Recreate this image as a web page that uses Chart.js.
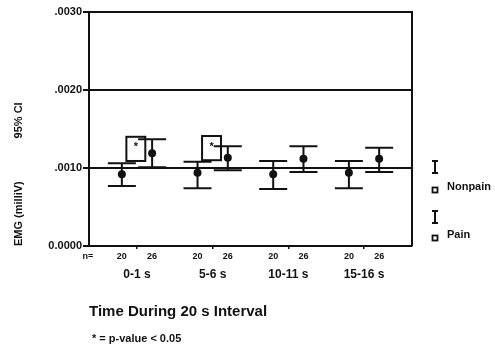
<!DOCTYPE html>
<html>
<head>
<meta charset="utf-8">
<script src="https://cdn.jsdelivr.net/npm/chart.js@4.4.1/dist/chart.umd.min.js"></script>
<style>
  html, body { margin: 0; padding: 0; background: #fff; }
  #wrap { width: 495px; height: 358px; }
</style>
</head>
<body>
<div id="wrap"><canvas id="c" width="495" height="358"></canvas></div>
<script>
// ---- data ----
const categories = ["0-1 s", "5-6 s", "10-11 s", "15-16 s"];
const nNonpain = [20, 20, 20, 20];
const nPain = [26, 26, 26, 26];
const nonpainMean = [0.00092, 0.00094, 0.00092, 0.00094];
const nonpainLow  = [0.00077, 0.00074, 0.00073, 0.00074];
const nonpainHigh = [0.00106, 0.00108, 0.00109, 0.00109];
const painMean = [0.00119, 0.00113, 0.00112, 0.00112];
const painLow  = [0.00101, 0.00097, 0.00095, 0.00095];
const painHigh = [0.00137, 0.00128, 0.00128, 0.00126];
const sigLow  = [0.00109, 0.00110, null, null];
const sigHigh = [0.00140, 0.00141, null, null];
const yTickValues = [0, 0.001, 0.002, 0.003];
const yTickLabels = ["0.0000", ".0010", ".0020", ".0030"];
const seriesNames = ["Nonpain", "Pain"];
const footnote = "* = p-value < 0.05";
const xTitle = "Time During 20 s Interval";
const yTitle = "EMG (milliV)              95% CI";

const FONT = "'Liberation Sans', Arial, Helvetica, sans-serif";
const INK = "#111";
const OFF = 0.2; // series offset inside a group (x units)

const nonpainPts = nonpainMean.map((v, i) => ({ x: i + 1 - OFF, y: v }));
const painPts = painMean.map((v, i) => ({ x: i + 1 + OFF, y: v }));

const extras = {
  id: 'extras',
  beforeDatasetsDraw(chart) {
    const ctx = chart.ctx;
    const xs = chart.scales.x, ys = chart.scales.y;
    const ca = chart.chartArea;
    ctx.save();
    ctx.strokeStyle = INK;
    ctx.fillStyle = INK;
    // right border + top border
    ctx.lineWidth = 2;
    ctx.beginPath();
    ctx.moveTo(ca.left, ca.top);
    ctx.lineTo(ca.right, ca.top);
    ctx.lineTo(ca.right, ca.bottom);
    ctx.stroke();
    // error bars
    const cap = 14;
    function bar(xv, lo, hi) {
      const x = xs.getPixelForValue(xv);
      const y1 = ys.getPixelForValue(lo), y2 = ys.getPixelForValue(hi);
      ctx.lineWidth = 2;
      ctx.beginPath();
      ctx.moveTo(x, y1); ctx.lineTo(x, y2);
      ctx.moveTo(x - cap, y1); ctx.lineTo(x + cap, y1);
      ctx.moveTo(x - cap, y2); ctx.lineTo(x + cap, y2);
      ctx.stroke();
    }
    categories.forEach((c, i) => {
      bar(i + 1 - OFF, nonpainLow[i], nonpainHigh[i]);
      bar(i + 1 + OFF, painLow[i], painHigh[i]);
      if (sigLow[i] != null) {
        const xl = xs.getPixelForValue(i + 1 - 0.14);
        const xr = xs.getPixelForValue(i + 1 + 0.11);
        const yt = ys.getPixelForValue(sigHigh[i]);
        const yb = ys.getPixelForValue(sigLow[i]);
        ctx.lineWidth = 2;
        ctx.strokeRect(xl, yt, xr - xl, yb - yt);
        ctx.font = "bold 11px " + FONT;
        ctx.textAlign = 'center';
        ctx.textBaseline = 'top';
        ctx.fillText("*", (xl + xr) / 2, yt + 5);
      }
    });
    ctx.restore();
  },
  afterDraw(chart) {
    const ctx = chart.ctx;
    const xs = chart.scales.x;
    const ca = chart.chartArea;
    ctx.save();
    ctx.fillStyle = INK;
    ctx.strokeStyle = INK;
    // n labels
    ctx.font = "bold 9px " + FONT;
    ctx.textAlign = 'center';
    ctx.textBaseline = 'middle';
    const ny = ca.bottom + 11;
    ctx.fillText("n=", ca.left - 1, ny);
    categories.forEach((c, i) => {
      ctx.fillText(String(nNonpain[i]), xs.getPixelForValue(i + 1 - OFF), ny);
      ctx.fillText(String(nPain[i]), xs.getPixelForValue(i + 1 + OFF), ny);
    });
    // footnote
    ctx.font = "bold 11px " + FONT;
    ctx.textAlign = 'left';
    ctx.fillText(footnote, ca.left + 3, 339);
    // legend
    const lx = ca.right + 23;
    const items = [{ y: 167, name: seriesNames[0], my: 190 }, { y: 217, name: seriesNames[1], my: 238 }];
    items.forEach(it => {
      ctx.lineWidth = 2;
      ctx.beginPath();
      ctx.moveTo(lx, it.y - 6); ctx.lineTo(lx, it.y + 6);
      ctx.moveTo(lx - 3, it.y - 6); ctx.lineTo(lx + 3, it.y - 6);
      ctx.moveTo(lx - 3, it.y + 6); ctx.lineTo(lx + 3, it.y + 6);
      ctx.stroke();
      ctx.lineWidth = 1.8;
      ctx.strokeRect(lx - 2.5, it.my - 2.5, 5, 5);
      ctx.font = "bold 11px " + FONT;
      ctx.textAlign = 'left';
      ctx.textBaseline = 'middle';
      ctx.fillText(it.name, lx + 12, it.my - 3);
    });
    ctx.restore();
  }
};

new Chart(document.getElementById('c'), {
  type: 'scatter',
  data: {
    datasets: [
      { label: seriesNames[0], data: nonpainPts, pointRadius: 4, pointHoverRadius: 4,
        backgroundColor: INK, borderColor: INK, borderWidth: 0 },
      { label: seriesNames[1], data: painPts, pointRadius: 4, pointHoverRadius: 4,
        backgroundColor: INK, borderColor: INK, borderWidth: 0 }
    ]
  },
  options: {
    responsive: false,
    animation: false,
    events: [],
    layout: { padding: { left: 0, top: 12, right: 83, bottom: 0 } },
    plugins: { legend: { display: false }, tooltip: { enabled: false } },
    scales: {
      x: {
        type: 'linear',
        min: 0.366, max: 4.634,
        afterBuildTicks: s => { s.ticks = categories.map((c, i) => ({ value: i + 1 })); },
        afterFit: s => { s.height = 112; },
        ticks: {
          callback: v => categories[Math.round(v) - 1],
          color: INK,
          font: { family: FONT, size: 12, weight: 'bold' },
          padding: 18,
          maxRotation: 0
        },
        grid: { drawOnChartArea: false, drawTicks: true, tickLength: 3, color: INK, lineWidth: 1.5 },
        border: { display: true, color: INK, width: 2 },
        title: {
          display: true, text: xTitle, align: 'start', color: INK,
          font: { family: FONT, size: 15, weight: 'bold' },
          padding: { top: 0, bottom: 37 }
        }
      },
      y: {
        min: 0, max: 0.003,
        afterBuildTicks: s => { s.ticks = yTickValues.map(v => ({ value: v })); },
        afterFit: s => { s.width = 89; },
        ticks: {
          callback: (v, idx) => yTickLabels[idx],
          color: INK,
          font: { family: FONT, size: 11, weight: 'bold' },
          padding: 1
        },
        grid: { color: INK, lineWidth: 2, tickLength: 6 },
        border: { display: true, color: INK, width: 2 },
        title: {
          display: true, text: yTitle, align: 'start', color: INK,
          font: { family: FONT, size: 11, weight: 'bold' },
          padding: { top: 12, bottom: 0 }
        }
      }
    }
  },
  plugins: [extras]
});
</script>
</body>
</html>
